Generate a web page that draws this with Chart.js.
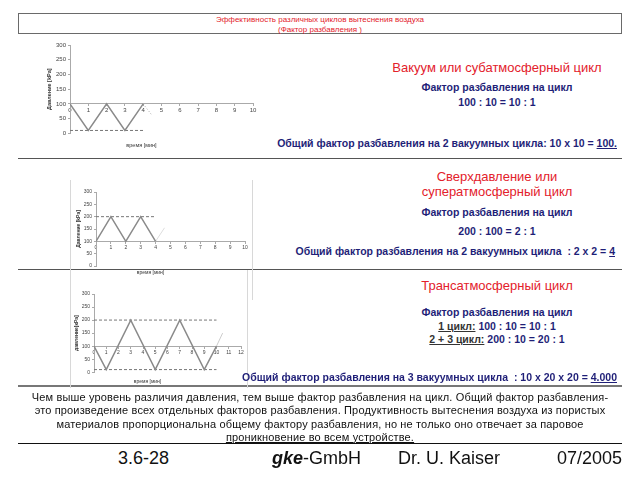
<!DOCTYPE html>
<html>
<head>
<meta charset="utf-8">
<script src="https://cdn.jsdelivr.net/npm/chart.js@4"></script>
<style>
  html,body{margin:0;padding:0;background:#fff;}
  body{width:640px;height:480px;position:relative;overflow:hidden;font-family:"Liberation Sans",Arial,sans-serif;}
  .abs{position:absolute;}
  .ctr{text-align:center;white-space:nowrap;line-height:1;}
  .red{color:#e3212b;}
  .navy{color:#1f1f78;font-weight:bold;}
  .hline{position:absolute;height:0;}
  .vline{position:absolute;width:0;border-left:1px solid #d8d8d8;}
  canvas{display:block;}
</style>
</head>
<body>
<!-- title box -->
<div class="abs" style="left:18px;top:13px;width:602px;height:19px;border:1.5px solid #6a6a6a;"></div>
<div class="abs ctr red" style="left:0;width:640px;top:16px;font-size:8px;">Эффективность различных циклов вытеснения воздуха</div>
<div class="abs ctr red" style="left:0;width:640px;top:26px;font-size:8px;">(Фактор разбавления )</div>

<!-- separators -->
<div class="hline" style="left:18px;width:604px;top:158px;border-top:1.5px solid #555;"></div>
<div class="hline" style="left:18px;width:604px;top:269px;border-top:1.5px solid #555;"></div>
<div class="hline" style="left:18px;width:604px;top:385px;border-top:2.5px solid #777;"></div>
<div class="hline" style="left:18px;width:604px;top:443px;border-top:1.5px solid #111;"></div>

<!-- faint chart frames -->
<div class="vline" style="left:70px;top:180px;height:120px;"></div>
<div class="vline" style="left:252px;top:180px;height:120px;"></div>
<div class="vline" style="left:70px;top:288px;height:100px;"></div>
<div class="vline" style="left:247px;top:270px;height:118px;"></div>

<!-- charts -->
<div class="abs" style="left:30px;top:38px;width:240px;height:116px;"><canvas id="c1"></canvas></div>
<div class="abs" style="left:56px;top:185px;width:206px;height:95px;"><canvas id="c2"></canvas></div>
<div class="abs" style="left:54px;top:287px;width:204px;height:102px;"><canvas id="c3"></canvas></div>

<!-- section 1 text -->
<div class="abs ctr red" style="left:357px;width:280px;top:61px;font-size:13px;">Вакуум или субатмосферный цикл</div>
<div class="abs ctr navy" style="left:357px;width:280px;top:82px;font-size:10.5px;">Фактор разбавления на цикл</div>
<div class="abs ctr navy" style="left:357px;width:280px;top:97px;font-size:10.5px;">100 : 10 = 10 : 1</div>
<div class="abs navy" style="right:23px;top:138px;font-size:10.5px;white-space:nowrap;line-height:1;">Общий фактор разбавления на 2 вакуумных цикла: 10 x 10 = <u>100.</u></div>

<!-- section 2 text -->
<div class="abs ctr red" style="left:357px;width:280px;top:170px;font-size:13px;">Сверхдавление или</div>
<div class="abs ctr red" style="left:357px;width:280px;top:185px;font-size:13px;">суператмосферный цикл</div>
<div class="abs ctr navy" style="left:357px;width:280px;top:207px;font-size:10.5px;">Фактор разбавления на цикл</div>
<div class="abs ctr navy" style="left:357px;width:280px;top:226px;font-size:10.5px;">200 : 100 = 2 : 1</div>
<div class="abs navy" style="right:25px;top:246px;font-size:10.5px;white-space:nowrap;line-height:1;">Общий фактор разбавления на 2 вакуумных цикла&nbsp; : 2 x 2 = <u>4</u></div>

<!-- section 3 text -->
<div class="abs ctr red" style="left:357px;width:280px;top:279px;font-size:13px;">Трансатмосферный цикл</div>
<div class="abs ctr navy" style="left:357px;width:280px;top:307px;font-size:10.5px;">Фактор разбавления на цикл</div>
<div class="abs ctr navy" style="left:357px;width:280px;top:321px;font-size:10.5px;"><u style="color:#333;">1 цикл:</u> 100 : 10 = 10 : 1</div>
<div class="abs ctr navy" style="left:357px;width:280px;top:334px;font-size:10.5px;"><u style="color:#333;">2 + 3 цикл:</u> 200 : 10 = 20 : 1</div>
<div class="abs navy" style="right:23px;top:372px;font-size:10.5px;white-space:nowrap;line-height:1;">Общий фактор разбавления на 3 вакуумных цикла&nbsp; : 10 x 20 x 20 = <u>4.000</u></div>

<!-- bottom paragraph -->
<div class="abs" style="left:0;width:640px;top:391px;text-align:center;font-size:11px;letter-spacing:0.15px;line-height:13.3px;color:#111;">
Чем выше уровень различия давления, тем выше фактор разбавления на цикл. Общий фактор разбавления-<br>
это произведение всех отдельных факторов разбавления. Продуктивность вытеснения воздуха из пористых<br>
материалов пропорциональна общему фактору разбавления, но не только оно отвечает за паровое<br>
<u>проникновение во всем устройстве.</u>
</div>

<!-- footer -->
<div class="abs" style="left:118px;top:449px;font-size:18px;line-height:1;color:#111;">3.6-28</div>
<div class="abs" style="left:272px;top:449px;font-size:18px;line-height:1;color:#111;"><b><i>gke</i></b>-GmbH</div>
<div class="abs" style="left:398px;top:449px;font-size:18px;line-height:1;color:#111;">Dr. U. Kaiser</div>
<div class="abs" style="right:18px;top:449px;font-size:18px;line-height:1;color:#111;">07/2005</div>

<script>
// ---------- data ----------
const pressureTicks = [0, 50, 100, 150, 200, 250, 300];
const timeTicksA = [0, 1, 2, 3, 4, 5, 6, 7, 8, 9, 10];
const timeTicksB = [0, 1, 2, 3, 4, 5, 6, 7, 8, 9, 10, 11, 12];

// Chart 1: vacuum cycle
const vacuumTime = [0, 1, 2, 3, 4];
const vacuumPressure = [100, 10, 100, 10, 100];
const vacuumTailTime = [4, 4.5];
const vacuumTailPressure = [100, 60];
const vacuumFloorTime = [0, 4];
const vacuumFloorPressure = [10, 10];

// Chart 2: overpressure cycle
const overTime = [0, 1, 2, 3, 4];
const overPressure = [100, 200, 100, 200, 100];
const overTailTime = [4, 4.6];
const overTailPressure = [100, 155];
const overCeilTime = [0, 4];
const overCeilPressure = [200, 200];

// Chart 3: transatmospheric cycle
const transTime = [0, 1, 3, 5, 7, 9, 10];
const transPressure = [100, 10, 200, 10, 200, 10, 100];
const transTailTime = [10, 10.5];
const transTailPressure = [100, 150];
const transCeilTime = [0, 10];
const transCeilPressure = [200, 200];
const transFloorTime = [0, 10];
const transFloorPressure = [10, 10];

const yTitles = ["Давление [kPa]", "Давление [kPa]", "давление[кPа]"];
const xTitle = "время [мин]";

// ---------- helpers ----------
const FONT = '"Liberation Sans", Arial, sans-serif';
function pts(xs, ys){ return xs.map((x,i)=>({x:x, y:ys[i]})); }
function lineDs(xs, ys, color, width, dash){
  return {data: pts(xs, ys), showLine:true, borderColor:color, borderWidth:width,
          borderDash: dash || [], pointRadius:0, fill:false, tension:0};
}

function makeChart(id, datasets, xTicks, yTitle, opt){
  new Chart(document.getElementById(id), {
    type:'scatter',
    data:{datasets: datasets},
    options:{
      responsive:true, maintainAspectRatio:false, animation:false,
      layout:{padding:{top:7, right:17, bottom:opt.padBottom, left:0}},
      plugins:{
        legend:{display:false}, tooltip:{enabled:false},
        title:{display:true, text:xTitle, position:'bottom', color:'#333',
               font:{family:FONT, size:opt.titleSize, weight:'normal'},
               padding:{top:opt.titlePadTop, bottom:1}}
      },
      scales:{
        x:{type:'linear', min:xTicks[0], max:xTicks[xTicks.length-1],
           position:{y:100},
           afterBuildTicks:(s)=>{ s.ticks = xTicks.map(v=>({value:v})); },
           grid:{display:true, drawOnChartArea:false, tickLength:2, color:'#aaa'},
           border:{color:'#aaa', width:1},
           ticks:{color:'#444', font:{family:FONT, size:opt.tickSize}, padding:1, maxRotation:0, autoSkip:false}},
        y:{type:'linear', min:0, max:300, position:'left',
           afterBuildTicks:(s)=>{ s.ticks = pressureTicks.map(v=>({value:v})); },
           afterFit:(s)=>{ s.width = 40; },
           grid:{display:true, drawOnChartArea:false, tickLength:2, color:'#aaa'},
           border:{color:'#aaa', width:1},
           ticks:{color:'#444', font:{family:FONT, size:opt.tickSize}, padding:2},
           title:{display:true, text:yTitle, color:'#333',
                  font:{family:FONT, size:opt.titleSize, weight:'bold'},
                  padding:{top:opt.yTitlePad, bottom:0}}}
      }
    }
  });
}

makeChart('c1', [
  lineDs(vacuumTime, vacuumPressure, '#8a8a8a', 1.5),
  lineDs(vacuumTailTime, vacuumTailPressure, '#aaaaaa', 1, [1,2]),
  lineDs(vacuumFloorTime, vacuumFloorPressure, '#777', 1, [3,2])
], timeTicksA, yTitles[0], {padBottom:4, titlePadTop:9, titleSize:5.5, tickSize:6, yTitlePad:16});

makeChart('c2', [
  lineDs(overTime, overPressure, '#8a8a8a', 1.5),
  lineDs(overTailTime, overTailPressure, '#dddddd', 1),
  lineDs(overCeilTime, overCeilPressure, '#777', 1, [3,2])
], timeTicksA, yTitles[1], {padBottom:3, titlePadTop:4, titleSize:5, tickSize:5, yTitlePad:20});

makeChart('c3', [
  lineDs(transTime, transPressure, '#8a8a8a', 1.5),
  lineDs(transTailTime, transTailPressure, '#cccccc', 1),
  lineDs(transCeilTime, transCeilPressure, '#777', 1, [3,2]),
  lineDs(transFloorTime, transFloorPressure, '#777', 1, [3,2])
], timeTicksB, yTitles[2], {padBottom:3.8, titlePadTop:6, titleSize:5, tickSize:5, yTitlePad:20});
</script>
</body>
</html>
